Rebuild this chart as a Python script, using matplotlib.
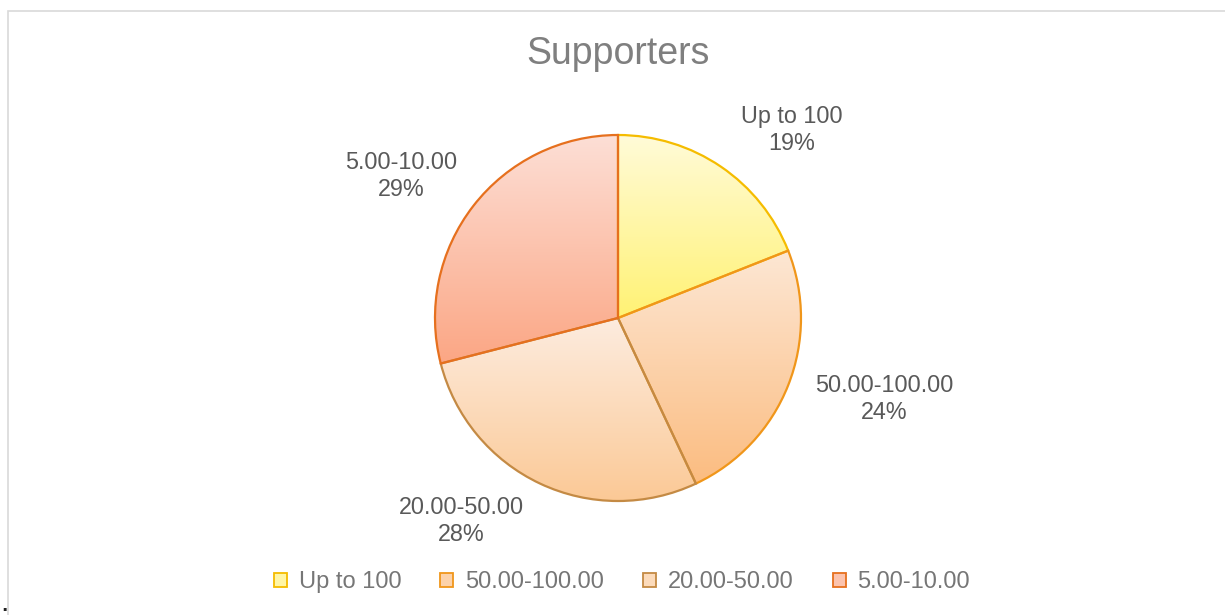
import numpy as np
import matplotlib.pyplot as plt
from matplotlib.colors import LinearSegmentedColormap, to_rgb
from matplotlib.patches import Patch, Rectangle

# data
categories = ["Up to 100", "50.00-100.00", "20.00-50.00", "5.00-10.00"]
shares = [19, 24, 28, 29]
pct_labels = ["19%", "24%", "28%", "29%"]

# gradient (top, bottom) and edge colour per slice
tops = ["#FFFBD8", "#FDE7D4", "#FDECDF", "#FDDFD6"]
bottoms = ["#FFF274", "#FBBC80", "#FBC996", "#FBA684"]
edges = ["#F5BC00", "#F0961A", "#C48A44", "#E6701E"]

W, H = 1225, 615
cx, cy, R = 618, 318, 183

fig = plt.figure(figsize=(W / 100, H / 100), dpi=100)
ax = fig.add_axes([0, 0, 1, 1])
ax.axis("off")

# outer chart border
fig.patches.append(Rectangle((8 / W, -0.1), 1.2, 1 - 11 / H + 0.1, transform=fig.transFigure,
                             fill=False, edgecolor="#D9D9D9", linewidth=1.2))

wedges, _ = ax.pie(shares, startangle=90, counterclock=False, radius=1, center=(0, 0),
                   wedgeprops=dict(linewidth=1.6))

grad = np.linspace(0, 1, 256).reshape(-1, 1)
for w, t, b, e in zip(wedges, tops, bottoms, edges):
    w.set_facecolor("none")
    w.set_edgecolor(e)
    w.set_zorder(3)
    ext = w.get_path().get_extents()
    cmap = LinearSegmentedColormap.from_list("g", [t, b])
    im = ax.imshow(grad, cmap=cmap, aspect="auto", origin="upper",
                   extent=[ext.x0, ext.x1, ext.y0, ext.y1], zorder=2, interpolation="bilinear")
    im.set_clip_path(w)

ax.set_xlim(-cx / R, (W - cx) / R)
ax.set_ylim(-(H - cy) / R, cy / R)
ax.set_aspect("auto")

# label positions (pixels)
label_px = [(792, 130), (884, 399), (461, 521), (401, 176)]
for (px, py), cat, p in zip(label_px, categories, pct_labels):
    ax.text((px - cx) / R, (cy - py) / R, cat + "\n" + p, ha="center", va="center",
            fontsize=16.8, color="#595959", family="Liberation Sans", linespacing=1.25)

fig.text(618 / W, 1 - 54 / H, "Supporters", ha="center", va="center",
         fontsize=27, color="#7F7F7F", family="Liberation Sans")

mids = [tuple((np.array(to_rgb(t)) + np.array(to_rgb(b))) / 2) for t, b in zip(tops, bottoms)]
handles = [Patch(facecolor=m, edgecolor=e, linewidth=1.3) for m, e in zip(mids, edges)]
fig.legend(handles, categories, loc="center", bbox_to_anchor=(622 / W, 1 - 582 / H), ncol=4,
           frameon=False, handlelength=0.55, handleheight=0.55, handletextpad=0.5,
           columnspacing=1.65, prop={"family": "Liberation Sans", "size": 17}, labelcolor="#767676")

fig.text(4 / W, 1 - 606 / H, ".", ha="center", va="center", fontsize=12, color="#222222",
         fontweight="bold")

fig.savefig("out.png", dpi=100)
